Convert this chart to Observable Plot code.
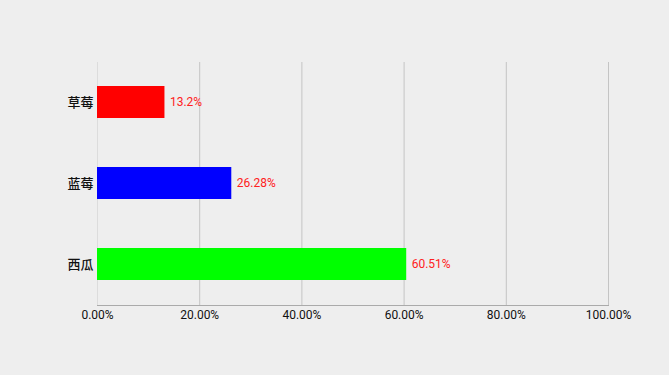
<!DOCTYPE html>
<html><head><meta charset="utf-8">
<script src="https://cdn.jsdelivr.net/npm/d3@7"></script>
<script src="https://cdn.jsdelivr.net/npm/@observablehq/plot@0.6"></script>
<style>
html,body{margin:0;padding:0;background:#eeeeee;}
#chart svg{display:block;font-family:Roboto,"Noto Sans CJK SC",sans-serif;}
</style></head>
<body><div id="chart"></div>
<script>
const categories = ["草莓", "蓝莓", "西瓜"];
const values = [13.2, 26.28, 60.51];
const colors = ["#ff0000", "#0000ff", "#00ff00"];
const labels = ["13.2%", "26.28%", "60.51%"];
const xTicks = [0, 20, 40, 60, 80, 100];

const data = categories.map((c, i) => ({cat: c, v: values[i], color: colors[i], label: labels[i]}));

const chart = Plot.plot({
  width: 669, height: 375,
  marginLeft: 97, marginRight: 61, marginTop: 62, marginBottom: 70,
  style: {background: "#eeeeee", fontSize: "12px", color: "#111"},
  x: {domain: [0, 100], label: null},
  y: {domain: categories, label: null, paddingInner: 0.6, paddingOuter: 0.3},
  marks: [
    Plot.ruleX(xTicks.slice(1), {stroke: "#c4c4c4", strokeWidth: 1}),
    Plot.ruleX([0], {stroke: "#dcdcdc"}),
    Plot.barX(data, {y: "cat", x: "v", fill: "color"}),
    Plot.text(data, {y: "cat", x: "v", text: "label", dx: 5, textAnchor: "start", fill: "#ff2020", fontSize: 12}),
    Plot.axisX({ticks: xTicks, tickFormat: d => d.toFixed(2) + "%", tickSize: 0, tickPadding: 5, fill: "#111", fontSize: 12}),
    Plot.axisY({tickSize: 0, tickPadding: 4, fill: "#111", fontSize: 13, fontWeight: 500}),
    Plot.frame({anchor: "bottom", stroke: "#aaaaaa"})
  ]
});
document.getElementById("chart").appendChild(chart);
</script></body></html>
